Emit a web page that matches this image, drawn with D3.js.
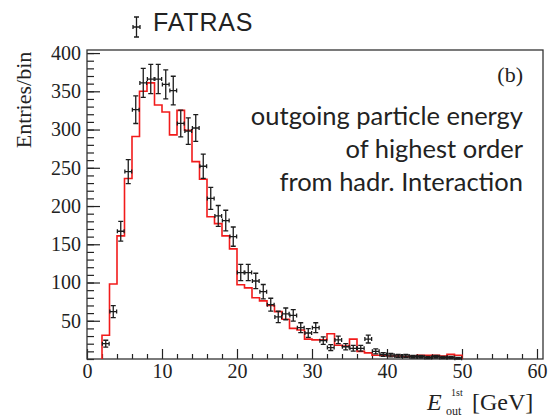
<!DOCTYPE html>
<html>
<head>
<meta charset="utf-8">
<script src="https://cdn.jsdelivr.net/npm/d3@7/dist/d3.min.js"></script>
<style>
	html, body { margin: 0; padding: 0; background: #fff; }
	svg { display: block; }
	.serif { font-family: "Liberation Serif", "DejaVu Serif", serif; fill: #222; }
	.sans { font-family: "Liberation Sans", Arial, sans-serif; fill: #222; }
	.note { font-family: Lato, "Open Sans", sans-serif; fill: #222; }
	.axis path.domain { display: none; }
	.axis line { stroke: #222; stroke-width: 1.2; }
</style>
</head>
<body>
<div id="chart"></div>
<script>
'use strict';

//Low edges of the 1 GeV bins that hold entries
var binLow = [2,3,4,5,6,7,8,9,10,11,12,13,14,15,16,17,18,19,20,21,22,23,24,25,
	26,27,28,29,30,31,32,33,34,35,36,37,38,39,40,41,42,43,44,45,46,47,48,49];

//Reference histogram (red line), entries per bin
var refCounts = [31,98,161,236,291,350,361,332,323,293,325,299,258,235,186,177,
	161,144,97,93,80,76,70,62,52,40,38,26,25,25,33,18,17,26,10,8,5,5,4,4,3,4,5,5,5,4,6,5];

//FATRAS points, entries per bin and their errors
var fatrasCounts = [20,62,167,245,326,361,366,366,359,351,308,298,302,252,210,187,
	181,160,113,113,102,88,71,55,59,57,41,34,41,24,15,25,16,14,14,26,10,6,5,4,4,3,3,2,3,2,2,1];
var fatrasErrors = [4.5,7.9,12.9,15.7,18.1,19,19.1,19.1,18.9,18.7,17.5,17.3,17.4,15.9,14.5,13.7,
	13.5,12.6,10.6,10.6,10.1,9.4,8.4,7.4,7.7,7.5,6.4,5.8,6.4,4.9,3.9,5,4,3.7,3.7,5.1,3.2,2.4,2.2,2,2,1.7,1.7,1.4,1.7,1.4,1.4,1];

//Axis ticks
var xMajorTicks = [0,10,20,30,40,50,60];
var xMinorTicks = [2,4,6,8,12,14,16,18,22,24,26,28,32,34,36,38,42,44,46,48,52,54,56,58];
var yMajorTicks = [50,100,150,200,250,300,350,400];

(function() {
	var width = 551, height = 418;
	var frame = {left: 87, right: 543, top: 50, bottom: 359};

	var svg = d3.select('#chart').append('svg')
		.attr('width', width)
		.attr('height', height);

	/***************************************
	 * SCALES
	 ***************************************/
	var x = d3.scaleLinear().domain([0, 60.8]).range([frame.left, frame.right]);
	var y = d3.scaleLinear().domain([0, 404]).range([frame.bottom, frame.top]);

	/***************************************
	 * AXES
	 ***************************************/
	//minor y ticks every 10 entries
	svg.append('g')
		.attr('class', 'axis')
		.attr('transform', 'translate(' + frame.left + ',0)')
		.call(d3.axisLeft(y).ticks(40).tickSize(-7).tickSizeOuter(0).tickFormat(''));
	var yAxis = svg.append('g')
		.attr('class', 'axis')
		.attr('transform', 'translate(' + frame.left + ',0)')
		.call(d3.axisLeft(y).tickValues(yMajorTicks).tickSize(-13).tickSizeOuter(0).tickPadding(6));
	yAxis.selectAll('text')
		.attr('class', 'serif')
		.style('font-size', '20px');

	svg.append('g')
		.attr('class', 'axis')
		.attr('transform', 'translate(0,' + frame.bottom + ')')
		.call(d3.axisBottom(x).tickValues(xMinorTicks).tickSize(-5).tickSizeOuter(0).tickFormat(''));
	var xAxis = svg.append('g')
		.attr('class', 'axis')
		.attr('transform', 'translate(0,' + frame.bottom + ')')
		.call(d3.axisBottom(x).tickValues(xMajorTicks).tickSize(-10).tickSizeOuter(0).tickPadding(5));
	xAxis.selectAll('text')
		.attr('class', 'serif')
		.style('font-size', '20px');

	//frame around the plot
	svg.append('rect')
		.attr('x', frame.left)
		.attr('y', frame.top)
		.attr('width', frame.right - frame.left)
		.attr('height', frame.bottom - frame.top)
		.attr('fill', 'none')
		.attr('stroke', '#333')
		.attr('stroke-width', 1.3);

	/***************************************
	 * REFERENCE HISTOGRAM
	 ***************************************/
	var steps = [{e: binLow[0], v: 0}];
	binLow.forEach(function(b, i) { steps.push({e: b, v: refCounts[i]}); });
	steps.push({e: binLow[binLow.length - 1] + 1, v: 0});

	svg.append('path')
		.datum(steps)
		.attr('fill', 'none')
		.attr('stroke', '#f21b1b')
		.attr('stroke-width', 1.6)
		.attr('d', d3.line()
			.x(function(d) { return x(d.e); })
			.y(function(d) { return y(d.v); })
			.curve(d3.curveStepAfter));

	/***************************************
	 * FATRAS POINTS
	 ***************************************/
	//draw one point with error bars at pixel position (cx,cy)
	function errorCross(g, cx, cy, x0, x1, y0, y1) {
		var p = 'M' + x0 + ',' + cy + 'H' + x1 +
			'M' + x0 + ',' + (cy - 2) + 'V' + (cy + 2) +
			'M' + x1 + ',' + (cy - 2) + 'V' + (cy + 2) +
			'M' + cx + ',' + y0 + 'V' + y1 +
			'M' + (cx - 2.5) + ',' + y0 + 'H' + (cx + 2.5) +
			'M' + (cx - 2.5) + ',' + y1 + 'H' + (cx + 2.5);
		g.append('path')
			.attr('d', p)
			.attr('fill', 'none')
			.attr('stroke', '#1c1c1c')
			.attr('stroke-width', 1.3);
	}

	var points = svg.append('g').attr('class', 'points');
	binLow.forEach(function(b, i) {
		var v = fatrasCounts[i], e = fatrasErrors[i];
		errorCross(points, x(b + 0.5), y(v), x(b + 0.05), x(b + 0.95), y(v + e), y(Math.max(v - e, 0)));
	});

	/***************************************
	 * LEGEND AND TEXT
	 ***************************************/
	errorCross(svg.append('g'), 136.5, 27, 133, 140, 17, 37);
	svg.append('text')
		.attr('class', 'sans')
		.attr('x', 153)
		.attr('y', 31)
		.style('font-size', '25px')
		.style('letter-spacing', '0.8px')
		.text('FATRAS');

	svg.append('text')
		.attr('class', 'serif')
		.attr('x', 523)
		.attr('y', 82)
		.attr('text-anchor', 'end')
		.style('font-size', '22px')
		.text('(b)');

	var noteLines = ['outgoing particle energy', 'of highest order', 'from hadr. Interaction'];
	svg.append('g').selectAll('text')
		.data(noteLines)
		.enter().append('text')
			.attr('class', 'note')
			.attr('x', 523)
			.attr('y', function(d, i) { return 125 + i * 33; })
			.attr('text-anchor', 'end')
			.style('font-size', '25.5px')
			.text(function(d) { return d; });

	//axis titles
	svg.append('text')
		.attr('class', 'serif')
		.attr('transform', 'translate(31,100) rotate(-90)')
		.attr('text-anchor', 'middle')
		.style('font-size', '22px')
		.text('Entries/bin');

	var xTitle = svg.append('text')
		.attr('class', 'serif')
		.attr('x', 427)
		.attr('y', 410)
		.style('font-size', '24px');
	xTitle.append('tspan').style('font-style', 'italic').text('E');
	xTitle.append('tspan').attr('x', 451).attr('y', 396).style('font-size', '10px').text('1st');
	xTitle.append('tspan').attr('x', 446).attr('y', 415).style('font-size', '12px').text('out');
	xTitle.append('tspan').attr('x', 472).attr('y', 410).text('[GeV]');
})();
</script>
</body>
</html>
